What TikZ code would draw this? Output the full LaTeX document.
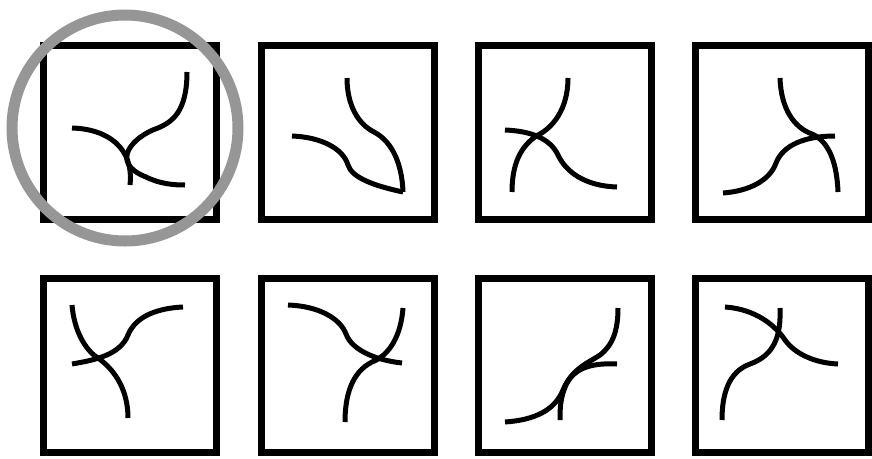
\documentclass[tikz,border=0pt]{standalone}
\definecolor{ringgray}{HTML}{969696}
\usepackage{tikz}

\begin{document}
\begin{tikzpicture}[
				x=1pt, y=-1pt,
				tile/.style={draw=black, line width=7pt, minimum width=173pt, minimum height=174pt, inner sep=0pt},
				strand/.style={line width=5pt, color=black},
				ring/.style={draw=ringgray, line width=11pt}
			]
			\useasboundingbox (0,0) rectangle (872,458);

			% top row
			\node[tile] (t1) at (129.5,132.5) {};
			\node[tile] (t2) at (347.5,132.5) {};
			\node[tile] (t3) at (565,132.5) {};
			\node[tile] (t4) at (781.5,132.5) {};
			% bottom row
			\node[tile] (t5) at (129.5,365) {};
			\node[tile] (t6) at (347.5,365) {};
			\node[tile] (t7) at (565,365) {};
			\node[tile] (t8) at (781.5,365) {};

			% tile 1
			\draw[strand] (72,128) .. controls (108,129) and (134,148) .. (130,185);
			\draw[strand] (187,72) .. controls (187,112) and (172,122) .. (158,128)
				.. controls (134,136) and (108,162) .. (146,177)
				.. controls (160,184) and (174,185) .. (185,185);

			% tile 2
			\draw[strand] (292,136) .. controls (320,137) and (343,148) .. (348,165)
				.. controls (352,178) and (375,186) .. (403,192);
			\draw[strand] (403,192) .. controls (402,165) and (393,142) .. (374,132)
				.. controls (358,124) and (347,105) .. (347,78);

			% tile 3
			\draw[strand] (505,130) .. controls (530,131) and (550,138) .. (558,155)
				.. controls (566,172) and (585,186) .. (617,187);
			\draw[strand] (568,78) .. controls (568,110) and (552,128) .. (538,135)
				.. controls (520,146) and (512,165) .. (512,192);

			% tile 4
			\draw[strand] (780,78) .. controls (781,110) and (795,128) .. (812,134)
				.. controls (830,142) and (837,165) .. (838,192);
			\draw[strand] (723,193) .. controls (750,191) and (770,180) .. (776,163)
				.. controls (783,145) and (805,136) .. (835,136);

			% tile 5
			\draw[strand] (72,305) .. controls (74,330) and (85,350) .. (98,358)
				.. controls (115,370) and (128,390) .. (128,418);
			\draw[strand] (72,364) .. controls (95,360) and (120,355) .. (128,335)
				.. controls (136,315) and (160,308) .. (183,307);

			% tile 6
			\draw[strand] (288,305) .. controls (318,306) and (340,318) .. (346,334)
				.. controls (352,350) and (375,360) .. (402,363);
			\draw[strand] (403,308) .. controls (401,335) and (390,355) .. (372,362)
				.. controls (352,372) and (345,395) .. (345,422);

			% tile 7
			\draw[strand] (505,422) .. controls (535,420) and (555,410) .. (563,390)
				.. controls (572,368) and (590,362) .. (600,355)
				.. controls (613,345) and (618,330) .. (618,308);
			\draw[strand] (617,364) .. controls (595,363) and (575,366) .. (566,385)
				.. controls (560,398) and (560,410) .. (560,420);

			% tile 8
			\draw[strand] (725,307) .. controls (755,309) and (775,325) .. (785,340)
				.. controls (795,354) and (815,363) .. (838,364);
			\draw[strand] (780,308) .. controls (781,335) and (775,355) .. (750,364)
				.. controls (728,372) and (722,395) .. (722,420);

			% highlight round the first tile
			\draw[ring] (125,128) circle[radius=113];
		\end{tikzpicture}
\end{document}
